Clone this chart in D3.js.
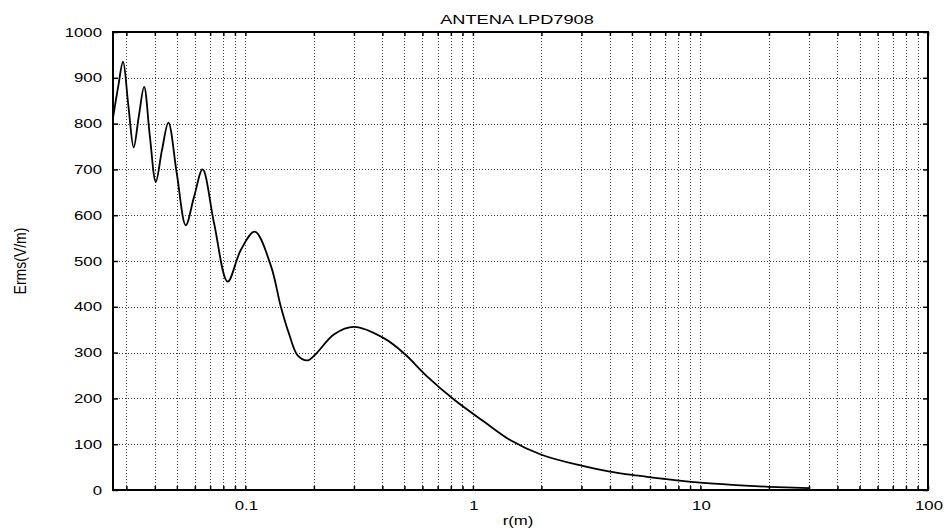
<!DOCTYPE html>
<html>
<head>
<meta charset="utf-8">
<script src="https://cdn.jsdelivr.net/npm/d3@7"></script>
<style>
  html, body { margin: 0; padding: 0; background: #fff; }
  svg { display: block; }
  text { font-family: "Liberation Sans", Arial, sans-serif; fill: #000; }
</style>
</head>
<body>
<svg id="chart" width="950" height="531"></svg>
<script>
// ---- data ----
const radius = [0.0262, 0.0276, 0.0290, 0.0306, 0.0323, 0.0340, 0.0359, 0.0380, 0.0404, 0.0430,
                0.0459, 0.0500, 0.0547, 0.0595, 0.0649, 0.0729, 0.0836, 0.0955, 0.110, 0.1294,
                0.1432, 0.1558, 0.1697, 0.1877, 0.204, 0.2457, 0.301, 0.4075, 0.499, 0.632,
                0.828, 1.121, 1.47, 2.0, 3.0, 4.0, 5.0, 6.0, 7.0, 10.0, 14, 20, 30];
const erms   = [812, 880, 935, 840, 748, 815, 880, 775, 673, 742,
                802, 690, 578, 640, 700, 582, 455, 524, 564, 490,
                400, 340, 294, 283, 297, 340, 356, 331, 298, 247,
                197, 149, 108, 77, 53, 40, 33, 28, 24, 16, 11, 7, 4];
const xTickValues = [0.1, 1, 10, 100];
const xTickLabels = ["0.1", "1", "10", "100"];
const yTickValues = [0, 100, 200, 300, 400, 500, 600, 700, 800, 900, 1000];
const titleText = "ANTENA LPD7908";
const xLabelText = "r(m)";
const yLabelText = "Erms(V/m)";

// ---- layout ----
const plotL = 113, plotR = 928, plotT = 32, plotB = 490;
const svg = d3.select("#chart");

const x = d3.scaleLog().domain([0.0262, 100]).range([plotL, plotR]);
const y = d3.scaleLinear().domain([0, 1000]).range([plotB, plotT]);

const gridX = x.ticks().filter(v => v > x.domain()[0] && v < x.domain()[1]);
const gridY = yTickValues.filter(v => v > 0 && v < 1000);

// grid
const grid = svg.append("g").attr("stroke", "#000").attr("stroke-width", 1)
  .attr("stroke-dasharray", "1,2").attr("opacity", 0.75);
grid.selectAll("line.v").data(gridX).join("line").attr("class", "v")
  .attr("x1", d => Math.round(x(d)) + 0.5).attr("x2", d => Math.round(x(d)) + 0.5)
  .attr("y1", plotT).attr("y2", plotB);
grid.selectAll("line.h").data(gridY).join("line").attr("class", "h")
  .attr("y1", d => Math.round(y(d)) + 0.5).attr("y2", d => Math.round(y(d)) + 0.5)
  .attr("x1", plotL).attr("x2", plotR);

// axes with inner ticks
const axB = svg.append("g").attr("transform", `translate(0,${plotB})`)
  .call(d3.axisBottom(x).tickValues(gridX.concat([100])).tickSize(-4).tickFormat(""));
const axT = svg.append("g").attr("transform", `translate(0,${plotT})`)
  .call(d3.axisTop(x).tickValues(gridX.concat([100])).tickSize(-4).tickFormat(""));
const axL = svg.append("g").attr("transform", `translate(${plotL},0)`)
  .call(d3.axisLeft(y).tickValues(yTickValues).tickSize(-5).tickFormat(""));
const axR = svg.append("g").attr("transform", `translate(${plotR},0)`)
  .call(d3.axisRight(y).tickValues(yTickValues).tickSize(-5).tickFormat(""));
[axB, axT, axL, axR].forEach(g => {
  g.select(".domain").remove();
  g.selectAll(".tick line").attr("stroke", "#000").attr("stroke-width", 1.5);
});

// frame
svg.append("rect").attr("x", plotL).attr("y", plotT)
  .attr("width", plotR - plotL).attr("height", plotB - plotT)
  .attr("fill", "none").attr("stroke", "#000").attr("stroke-width", 2);

// curve
const pts = radius.map((r, i) => [r, erms[i]]);
svg.append("path").datum(pts)
  .attr("fill", "none").attr("stroke", "#000").attr("stroke-width", 1.8)
  .attr("stroke-linejoin", "round")
  .attr("d", d3.line().x(d => x(d[0])).y(d => y(d[1])).curve(d3.curveCatmullRom.alpha(0.5)));

// text helper with horizontal stretch (reference font is wide)
function wideText(str, px, py, size, anchor, sx) {
  svg.append("text")
    .attr("transform", `translate(${px},${py}) scale(${sx},1)`)
    .attr("text-anchor", anchor)
    .attr("font-size", size)
    .text(str);
}

// y tick labels
yTickValues.forEach(v => wideText(String(v), 102, y(v) + 4.5, 12, "end", 1.4));
// x tick labels
xTickValues.forEach((v, i) => wideText(xTickLabels[i], x(v) + 1, 510, 12, "middle", 1.4));

// title and axis labels
wideText(titleText, 517, 24, 13, "middle", 1.4);
wideText(xLabelText, 518, 525, 12, "middle", 1.4);
svg.append("text")
  .attr("transform", "translate(26,261) rotate(-90) scale(1,1.2)")
  .attr("text-anchor", "middle").attr("font-size", 14)
  .text(yLabelText);
</script>
</body>
</html>
